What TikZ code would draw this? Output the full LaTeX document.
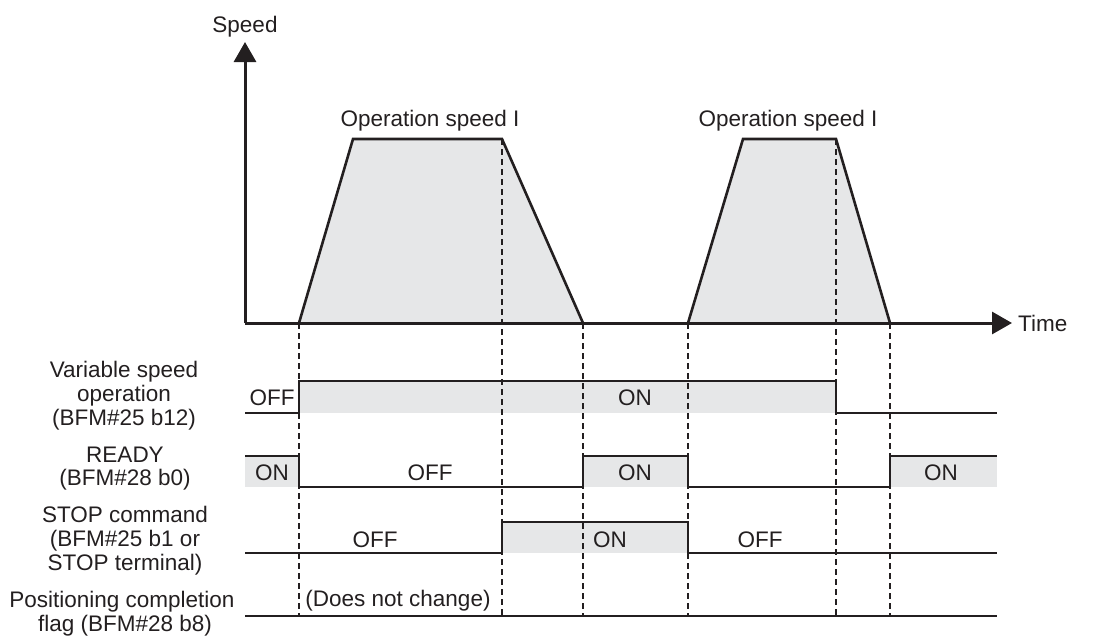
\documentclass[tikz,border=0pt]{standalone}
\usepackage{fontspec}
\setmainfont{Liberation Sans}
\usetikzlibrary{arrows.meta}
\definecolor{ink}{HTML}{231F20}
\definecolor{bandgray}{HTML}{E6E7E8}
\begin{document}
\begin{tikzpicture}[x=1pt,y=-1pt,
  txt/.style={font=\fontsize{22.5}{24}\selectfont, text=ink, inner sep=0pt, anchor=base},
  axis/.style={line width=3pt, draw=ink, -{Triangle[length=20pt,width=22pt]}},
  prof/.style={line width=2.6pt, draw=ink, line join=miter},
  guide/.style={line width=1.5pt, draw=ink, dash pattern=on 6pt off 4pt},
  sig/.style={line width=2.2pt, draw=ink, line join=miter},
  band/.style={fill=bandgray, draw=none}]
\useasboundingbox (0,0) rectangle (1097,635);

% key points
\coordinate (O) at (245,323);
\coordinate (ytip) at (245,42);
\coordinate (xtip) at (1012,323);
\coordinate (a1) at (299,323); \coordinate (b1) at (353,139);
\coordinate (c1) at (502,139); \coordinate (d1) at (583,323);
\coordinate (a2) at (688,323); \coordinate (b2) at (743,139);
\coordinate (c2) at (836,139); \coordinate (d2) at (890,323);

% speed profiles (fill)
\fill[band] (a1) -- (b1) -- (c1) -- (d1) -- cycle;
\fill[band] (a2) -- (b2) -- (c2) -- (d2) -- cycle;

% shaded ON bands
\fill[band] (299,381) rectangle (836,413);
\fill[band] (245,456) rectangle (299,487);
\fill[band] (583,456) rectangle (688,487);
\fill[band] (890,456) rectangle (997,487);
\fill[band] (502,522) rectangle (688,553);

% dashed guide lines
\coordinate (a1e) at (299,616);
\coordinate (c1e) at (502,616);
\coordinate (d1e) at (583,616);
\coordinate (a2e) at (688,616);
\coordinate (c2e) at (836,616);
\coordinate (d2e) at (890,616);
\draw[guide] (a1) -- (a1e);
\draw[guide] (c1) -- (c1e);
\draw[guide] (d1) -- (d1e);
\draw[guide] (a2) -- (a2e);
\draw[guide] (c2) -- (c2e);
\draw[guide] (d2) -- (d2e);

\draw[prof] (a1) -- (b1) -- (c1) -- (d1);
\draw[prof] (a2) -- (b2) -- (c2) -- (d2);

% axes
\draw[axis] (O) -- (ytip);
\draw[axis] (O) -- (xtip);

% waveforms
\draw[sig] (245,413) -- (299,413) -- (299,381) -- (836,381) -- (836,413) -- (997,413);
\draw[sig] (245,456) -- (299,456) -- (299,487) -- (583,487) -- (583,456) -- (688,456) -- (688,487) -- (890,487) -- (890,456);
\draw[line width=1.2pt, draw=ink] (890,456) -- (997,456);
\draw[sig] (245,553) -- (502,553) -- (502,522) -- (688,522) -- (688,553) -- (997,553);
\draw[sig] (245,616) -- (997,616);

% axis labels
\node[txt] (speed) at (245,32) {Speed};
\node[txt, anchor=base west] (time) at (1018,331) {Time};
\node[txt] (op1) at (430,126) {Operation speed I};
\node[txt] (op2) at (788,126) {Operation speed I};

% row labels
\node[txt] (v1) at (124,377) {Variable speed};
\node[txt] (v2) at (124,401) {operation};
\node[txt] (v3) at (124,425) {(BFM\#25 b12)};
\node[txt] (r1) at (125,462) {READY};
\node[txt] (r2) at (125,485) {(BFM\#28 b0)};
\node[txt] (s1) at (125,522) {STOP command};
\node[txt] (s2) at (125,546) {(BFM\#25 b1 or};
\node[txt] (s3) at (125,570) {STOP terminal)};
\node[txt] (p1) at (122,607) {Positioning completion};
\node[txt] (p2) at (125,631) {flag (BFM\#28 b8)};

% state labels
\node[txt] (vOff) at (272,405) {OFF};
\node[txt] (vOn) at (635,405) {ON};
\node[txt] (rOn1) at (272,480) {ON};
\node[txt] (rOff) at (430,480) {OFF};
\node[txt] (rOn2) at (635,480) {ON};
\node[txt] (rOn3) at (941,480) {ON};
\node[txt] (sOff1) at (375,547) {OFF};
\node[txt] (sOn) at (610,547) {ON};
\node[txt] (sOff2) at (760,547) {OFF};
\node[txt] (pNo) at (398,606) {(Does not change)};
\end{tikzpicture}
\end{document}
